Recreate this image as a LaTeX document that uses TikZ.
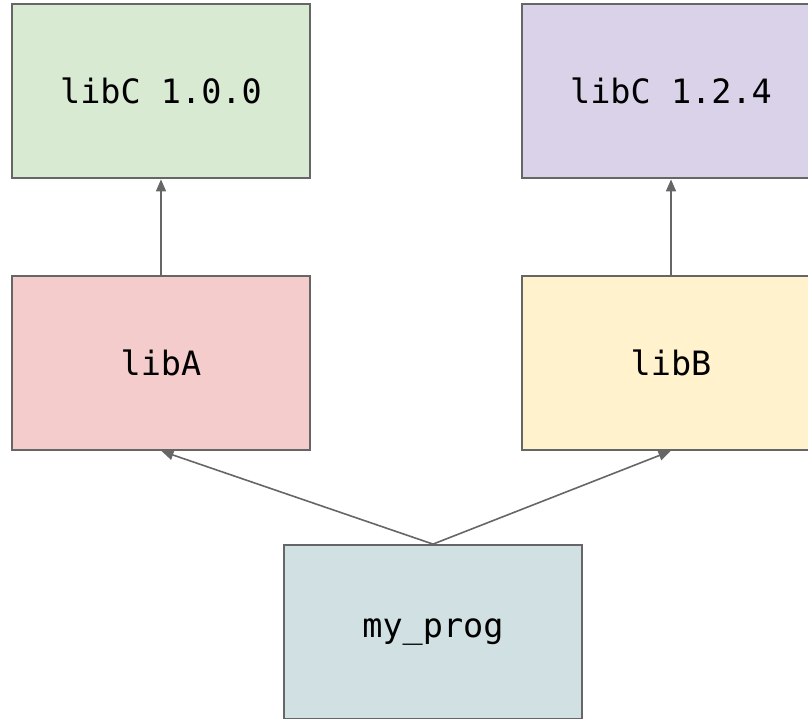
\documentclass[tikz,border=0pt]{standalone}
\usepackage{fontspec}
\setmonofont{DejaVu Sans Mono}
\usetikzlibrary{arrows.meta}
\definecolor{edge}{HTML}{666666}
\definecolor{fgreen}{HTML}{D9EAD3}
\definecolor{fpurple}{HTML}{D9D2E9}
\definecolor{fred}{HTML}{F4CCCC}
\definecolor{fyellow}{HTML}{FFF2CC}
\definecolor{fblue}{HTML}{D0E0E3}
\tikzset{
  libbox/.style={draw=edge, line width=1.8pt, minimum width=298pt, minimum height=174pt,
    inner sep=0pt, font=\fontsize{33.5}{40}\selectfont\ttfamily, text=black},
  dep/.style={draw=edge, line width=1.6pt, -{Triangle[length=12pt,width=10pt]}, shorten >=0.5pt}
}
\begin{document}
\begin{tikzpicture}[x=1pt,y=-1pt]
  \useasboundingbox (0,0) rectangle (808,718);
  \clip (0,0) rectangle (808,718);
  \node[libbox, fill=fgreen]  (c100) at (161,91)  {libC 1.0.0};
  \node[libbox, fill=fpurple] (c124) at (671,91)  {libC 1.2.4};
  \node[libbox, fill=fred]    (liba) at (161,363) {libA};
  \node[libbox, fill=fyellow] (libb) at (671,363) {libB};
  \node[libbox, fill=fblue]   (prog) at (433,632) {my\_prog};
  \draw[dep] (liba.north) -- (c100.south);
  \draw[dep] (libb.north) -- (c124.south);
  \draw[dep] (prog.north) -- (liba.south);
  \draw[dep] (prog.north) -- (libb.south);
\end{tikzpicture}
\end{document}
